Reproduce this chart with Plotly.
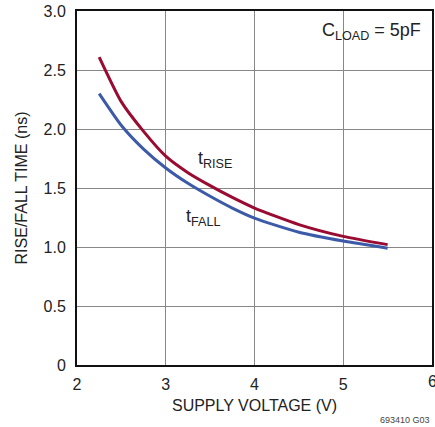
import plotly.graph_objects as go

# supply voltage (V) and rise/fall times (ns)
voltage = [2.25, 2.5, 2.75, 3.0, 3.25, 3.5, 3.75, 4.0, 4.5, 5.0, 5.5]
t_rise = [2.61, 2.23, 1.98, 1.77, 1.63, 1.52, 1.42, 1.33, 1.19, 1.09, 1.02]
t_fall = [2.30, 2.03, 1.83, 1.67, 1.54, 1.43, 1.33, 1.245, 1.125, 1.05, 0.99]

y_ticks = [0, 0.5, 1.0, 1.5, 2.0, 2.5, 3.0]
y_ticktext = ["0", "0.5", "1.0", "1.5", "2.0", "2.5", "3.0"]
x_ticks = [2, 3, 4, 5, 6]

font_name = "Liberation Sans, Arial, sans-serif"

fig = go.Figure()

fig.add_trace(go.Scatter(x=voltage, y=t_rise, mode="lines", name="tRISE",
                         line=dict(color="#9a0b32", width=3, shape="spline", smoothing=0.6)))
fig.add_trace(go.Scatter(x=voltage, y=t_fall, mode="lines", name="tFALL",
                         line=dict(color="#3c5aa8", width=3, shape="spline", smoothing=0.6)))

# curve labels
fig.add_annotation(x=3.34, y=1.74, text="t<sub>RISE</sub>", showarrow=False,
                   xanchor="left", font=dict(size=18, color="#222"))
fig.add_annotation(x=3.21, y=1.25, text="t<sub>FALL</sub>", showarrow=False,
                   xanchor="left", font=dict(size=18, color="#222"))
fig.add_annotation(x=5.9, y=2.83, text="C<sub>LOAD</sub> = 5pF", showarrow=False,
                   xanchor="right", font=dict(size=18, color="#222"))
fig.add_annotation(x=1.0, y=-0.175, xref="paper", yref="paper", text="693410 G03",
                   showarrow=False, xanchor="right", yanchor="bottom",
                   font=dict(size=9, color="#444"))
# plotly drops the last x tick label at the figure edge, so draw it by hand
fig.add_annotation(x=x_ticks[-1], y=0, yref="paper", text=str(x_ticks[-1]), showarrow=False,
                   xanchor="center", yanchor="top", yshift=-6,
                   font=dict(size=16, color="#222"))

fig.update_layout(
    width=435, height=427,
    margin=dict(l=77, r=3, t=11, b=62, autoexpand=False),
    paper_bgcolor="white", plot_bgcolor="white",
    showlegend=False,
    font=dict(family=font_name, size=16, color="#222"),
)
fig.update_xaxes(range=[2, 6], tickvals=x_ticks, showgrid=True, gridcolor="#888", gridwidth=1,
                 showline=True, linecolor="#111", linewidth=2, mirror=True, zeroline=False,
                 ticks="", ticklabelstandoff=4, automargin=False,
                 title=dict(text="SUPPLY VOLTAGE (V)", standoff=8, font=dict(size=16)))
fig.update_yaxes(range=[0, 3], tickvals=y_ticks, ticktext=y_ticktext, showgrid=True,
                 gridcolor="#888", gridwidth=1, showline=True, linecolor="#111", linewidth=2,
                 mirror=True, zeroline=False, ticks="", ticklabelstandoff=6, automargin=False,
                 title=dict(text="RISE/FALL TIME (ns)", standoff=12, font=dict(size=16)))

# page body has a default 8px margin; drop it so the figure sits at the window origin
fig.write_html("out.html", config={"displayModeBar": False},
               post_script="document.body.style.margin='0';")
